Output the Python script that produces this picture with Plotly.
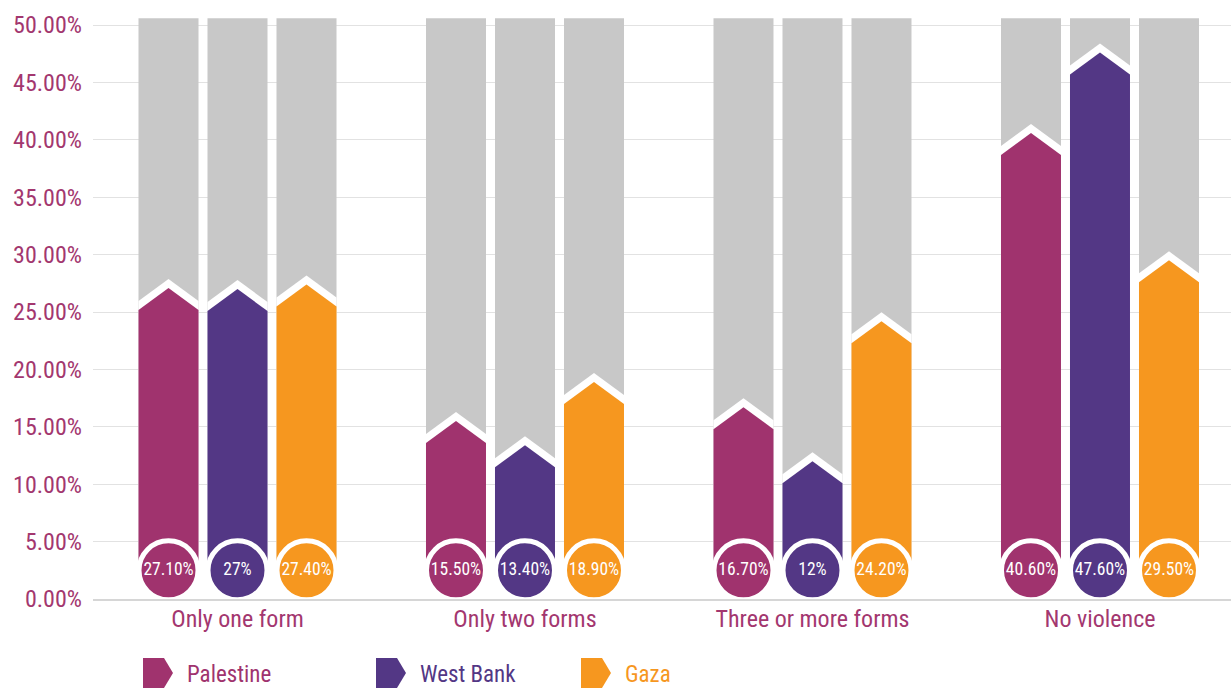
import plotly.graph_objects as go

# Forms of violence, share of respondents (%)
categories = ["Only one form", "Only two forms", "Three or more forms", "No violence"]
series_names = ["Palestine", "West Bank", "Gaza"]
palestine = [27.1, 15.5, 16.7, 40.6]
west_bank = [27.0, 13.4, 12.0, 47.6]
gaza = [27.4, 18.9, 24.2, 29.5]
y_ticks = [0, 5, 10, 15, 20, 25, 30, 35, 40, 45, 50]
track_top = 50.6  # height of the grey track behind each bar

series_values = [palestine, west_bank, gaza]
colors = ["#A0336E", "#533785", "#F6971F"]
grey = "#C8C8C8"
label_color = "#A3376F"
FONT = "Liberation Sans Narrow, Roboto Condensed, DejaVu Sans Condensed, Arial Narrow, sans-serif"

# layout geometry
W, H = 1231, 688
ML, MR, MT, MB = 93, 0, 0, 89
plot_w, plot_h = W - ML - MR, H - MT - MB
x_range = [-0.5026, 3.4557]
y_range = [0, 52.18]
px_per_x = plot_w / (x_range[1] - x_range[0])
px_per_y = plot_h / (y_range[1] - y_range[0])

bar_w = 60 / px_per_x          # bar width in x units
pitch = 69 / px_per_x          # distance between bars in a group
tip_h = 22 / px_per_y          # height of the pointed top
gap_h = 9 / px_per_y           # white band above the pointed top
base = 2.5                     # bars start at the badge centre
badge_y = 2.5


def fmt(v):
    return f"{v:g}%" if float(v).is_integer() else f"{v:.2f}%"


def chevron(c, top):
    hw = bar_w / 2
    xs = [c - hw, c - hw, c, c + hw, c + hw, c - hw]
    ys = [base, top - tip_h, top, top - tip_h, base, base]
    return xs, ys


fig = go.Figure()

# grey tracks
for s, vals in enumerate(series_values):
    xs = [i + (s - 1) * pitch for i in range(len(categories))]
    fig.add_trace(go.Bar(
        x=xs, y=[track_top - base] * len(xs), base=base, width=bar_w,
        marker=dict(color=grey, line=dict(width=0)),
        hoverinfo="skip", showlegend=False,
    ))

# white band + coloured bar with pointed top
for s, vals in enumerate(series_values):
    for i, v in enumerate(vals):
        c = i + (s - 1) * pitch
        wx, wy = chevron(c, v + gap_h)
        fig.add_trace(go.Scatter(
            x=wx, y=wy, mode="lines", fill="toself", fillcolor="white",
            line=dict(width=0, color="white"), hoverinfo="skip", showlegend=False,
        ))
        cx, cy = chevron(c, v)
        fig.add_trace(go.Scatter(
            x=cx, y=cy, mode="lines", fill="toself", fillcolor=colors[s],
            line=dict(width=0, color=colors[s]), hoverinfo="skip",
            showlegend=False, name=series_names[s],
        ))

# value badges
for s, vals in enumerate(series_values):
    xs = [i + (s - 1) * pitch for i in range(len(categories))]
    fig.add_trace(go.Scatter(
        x=xs, y=[badge_y] * len(xs), mode="markers+text",
        marker=dict(size=59, color=colors[s], line=dict(color="white", width=5)),
        text=[fmt(v) for v in vals], textposition="middle center",
        textfont=dict(family=FONT, size=17.5, color="white"),
        hoverinfo="skip", showlegend=False, cliponaxis=False,
    ))

# custom legend: arrow-shaped swatches with coloured labels
legend_x = [143, 376, 581]
legend_cy = 673
shapes, annotations = [], []


def px(xp):
    return (xp - ML) / plot_w


def py(yp):
    return (H - MB - yp) / plot_h


for s, name in enumerate(series_names):
    x0 = legend_x[s]
    pts = [(x0, legend_cy - 15), (x0 + 21, legend_cy - 15), (x0 + 30, legend_cy),
           (x0 + 21, legend_cy + 15), (x0, legend_cy + 15)]
    path = "M " + " L ".join(f"{px(a):.5f},{py(b):.5f}" for a, b in pts) + " Z"
    shapes.append(dict(type="path", xref="paper", yref="paper", path=path,
                       fillcolor=colors[s], line=dict(width=0)))
    annotations.append(dict(x=px(x0 + 42), y=py(legend_cy + 1), xref="paper", yref="paper",
                            text=name, showarrow=False, xanchor="left", yanchor="middle",
                            font=dict(family=FONT, size=23, color=colors[s])))

fig.update_layout(
    width=W, height=H,
    margin=dict(l=ML, r=MR, t=MT, b=MB),
    paper_bgcolor="white", plot_bgcolor="white",
    barmode="overlay", showlegend=False,
    shapes=shapes, annotations=annotations,
    font=dict(family=FONT, color=label_color),
    xaxis=dict(
        range=x_range, tickvals=list(range(len(categories))), ticktext=categories,
        showgrid=False, zeroline=False, showline=True, linecolor="#D6D6D6", linewidth=2,
        ticks="", ticklabelstandoff=-3,
        tickfont=dict(family=FONT, size=24, color=label_color),
        fixedrange=True,
    ),
    yaxis=dict(
        range=y_range, tickvals=y_ticks, ticktext=[f"{v:.2f}%" for v in y_ticks],
        showgrid=True, gridcolor="#E2E2E2", gridwidth=1, zeroline=False,
        ticks="", ticklabelstandoff=10,
        tickfont=dict(family=FONT, size=24, color=label_color),
        fixedrange=True,
    ),
)

fig.write_html("out.html")
